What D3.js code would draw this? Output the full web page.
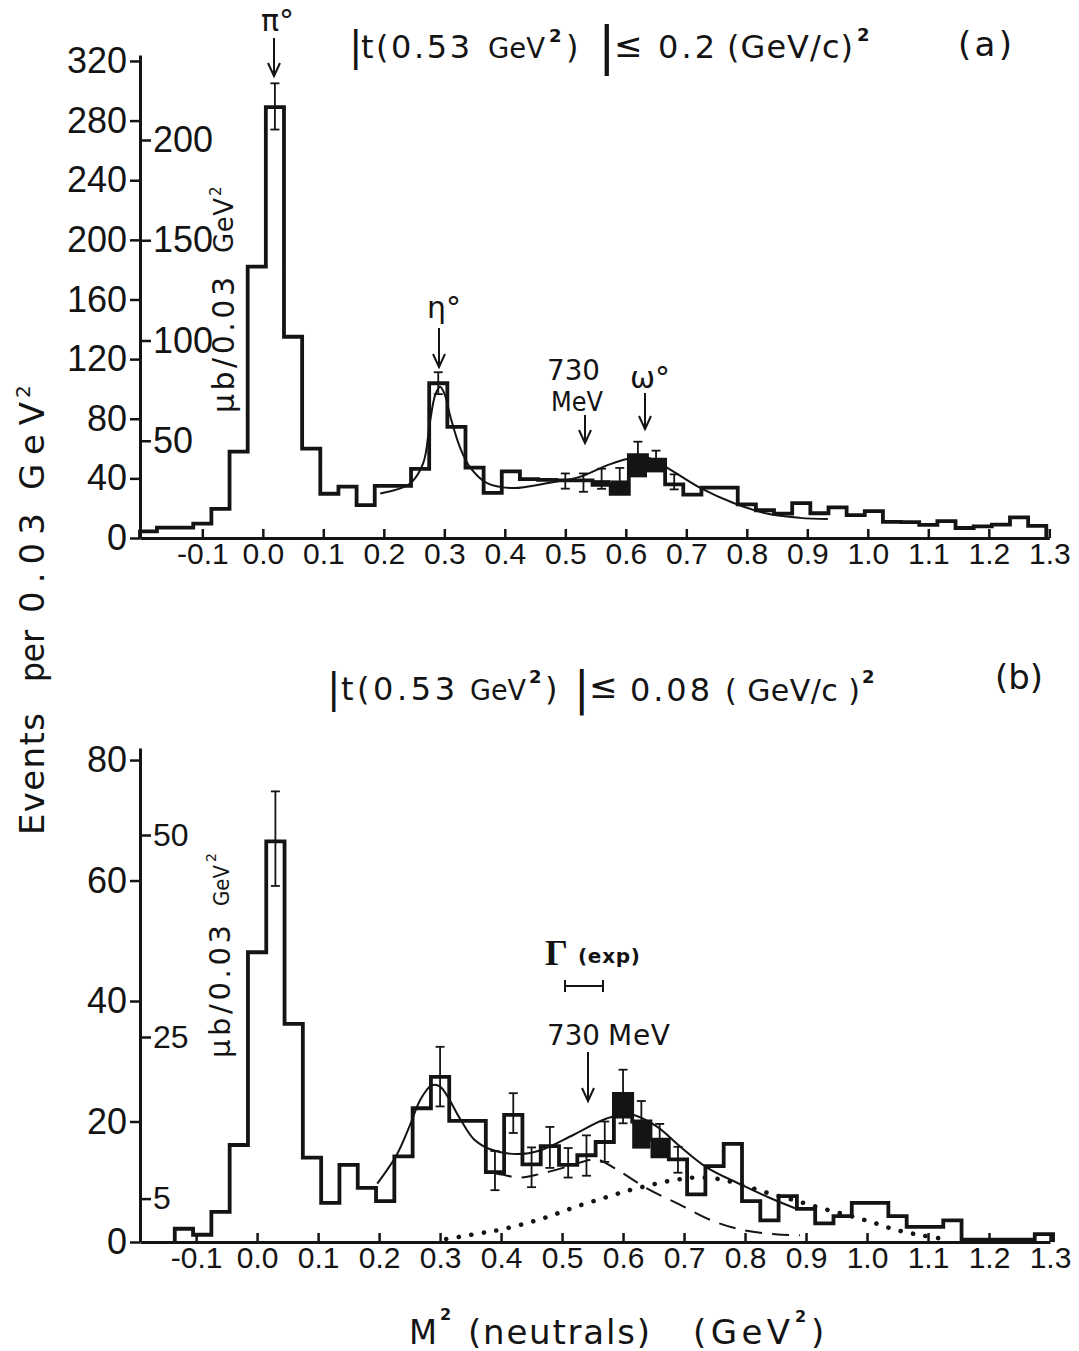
<!DOCTYPE html>
<html><head><meta charset="utf-8">
<script src="https://cdn.jsdelivr.net/npm/d3@7"></script>
<style>
html,body{margin:0;padding:0;background:#fff;}
svg{display:block;}
</style></head><body>
<svg id="c" width="1079" height="1351"></svg>
<script>
// ---------------- DATA ----------------
const binWidth = 0.03;
const xTickValues = [-0.1,0.0,0.1,0.2,0.3,0.4,0.5,0.6,0.7,0.8,0.9,1.0,1.1,1.2,1.3];
const xTickLabels = ["-0.1","0.0","0.1","0.2","0.3","0.4","0.5","0.6","0.7","0.8","0.9","1.0","1.1","1.2","1.3"];

// panel (a)  |t| <= 0.2
const aYTicks = [0,40,80,120,160,200,240,280,320];
const aMuTicks = [50,100,150,200];
const aBinCenters = [-0.19,-0.16,-0.13,-0.10,-0.07,-0.04,-0.01,0.02,0.05,0.08,0.11,0.14,0.17,0.20,0.23,0.26,0.29,0.32,0.35,0.38,0.41,0.44,0.47,0.50,0.53,0.56,0.59,0.62,0.65,0.68,0.71,0.74,0.77,0.80,0.83,0.86,0.89,0.92,0.95,0.98,1.01,1.04,1.07,1.10,1.13,1.16,1.19,1.22,1.25,1.28];
const aEvents = [4.5,7,7,9.7,19.6,58,182,289,135,60,29.7,34.5,22,35,35,46.4,103.8,74.6,47.2,30.3,44.7,39.5,39,38.6,38.6,35.6,29.6,55.6,52.5,36,29.1,33.8,33.8,22.6,18.6,16.3,23.4,16.6,20.5,15.4,18,10.8,10.7,8.8,11.3,6.7,7.8,9,13.8,8.1];
// shaded (omega) bins: [center, low, high]
const aShaded = [[0.56,35.6,38.8],[0.59,29.6,38.6],[0.62,40.7,55.6],[0.65,44,52.5]];
// error bars: [center, low, high]
const aErrors = [[0.02,274,305],[0.29,96.5,111.2],[0.50,33.1,43.3],[0.53,31,43.3],[0.56,33,46.5],[0.59,30.5,47],[0.62,47,64.6],[0.65,47,58.6],[0.68,32.6,42.7]];
// fitted curve points [M2, events]
const aFit = [[0.194,29.9],[0.243,36.4],[0.265,50],[0.276,77],[0.285,96],[0.293,101.5],[0.301,96],[0.31,81.4],[0.326,60.7],[0.343,47.2],[0.37,37],[0.414,33.5],[0.469,36.7],[0.524,41],[0.569,48.7],[0.602,53],[0.635,54],[0.668,47.2],[0.723,33.6],[0.778,23.5],[0.833,16.4],[0.888,13.5],[0.934,12.7]];

// panel (b)  |t| <= 0.08
const bYTicks = [0,20,40,60,80];
const bMuTicks = [5,25,50];
const bBinCenters = [-0.12,-0.09,-0.06,-0.03,0.00,0.03,0.06,0.09,0.12,0.15,0.18,0.21,0.24,0.27,0.30,0.33,0.36,0.39,0.42,0.45,0.48,0.51,0.54,0.57,0.60,0.63,0.66,0.69,0.72,0.75,0.78,0.81,0.84,0.87,0.90,0.93,0.96,0.99,1.02,1.05,1.08,1.11,1.14,1.17,1.20,1.23,1.26,1.29];
const bEvents = [2.2,1.2,5.0,16.1,48.1,66.5,36.2,14.0,6.5,12.8,9.0,6.8,14.2,22.2,27.4,20.1,20.1,11.6,21.1,12.9,15.9,12.8,14.4,16.6,24.6,20.0,17.0,13.7,7.9,12.6,16.3,6.8,3.6,7.6,5.5,3.1,4.3,6.5,6.5,4.3,2.5,2.5,3.6,0.4,0.4,0.4,0.4,1.3];
const bShaded = [[0.60,20.5,24.6],[0.63,15.5,20.0],[0.66,13.9,17.0]];
const bErrors = [[0.03,59.1,74.8],[0.30,22.5,32.4],[0.39,8.6,15.1],[0.42,18.1,24.7],[0.45,9.1,15.7],[0.48,12.3,19.1],[0.51,10.7,15.6],[0.54,11,17.7],[0.57,13.3,20],[0.60,19.7,28.6],[0.63,16.7,23.4],[0.66,15,19.6],[0.69,11.5,15.8]];
const bFit = [[0.197,9.7],[0.229,14.5],[0.251,19.5],[0.267,23.5],[0.286,26],[0.30,25.8],[0.333,20.4],[0.355,17.1],[0.382,15.4],[0.426,14.6],[0.464,15.2],[0.519,17.8],[0.573,20.5],[0.612,21.2],[0.655,19.2],[0.693,15.9],[0.737,12.4],[0.792,9.6],[0.841,7.3],[0.882,5.6]];
const bDashed = [[0.39,11.4],[0.401,11.2],[0.431,10.7],[0.464,11.3],[0.508,12.5],[0.54,13.5],[0.558,13.7],[0.595,11.7],[0.639,8.9],[0.693,6.2],[0.747,3.5],[0.80,1.9],[0.85,1.3],[0.89,1.1]];
const bDotted = [[0.31,0.5],[0.363,1.4],[0.401,2.1],[0.441,3.1],[0.48,4.3],[0.521,5.8],[0.565,7.2],[0.607,8.5],[0.647,9.5],[0.685,10.3],[0.72,10.7],[0.76,10.4],[0.8,9.3],[0.842,8],[0.882,6.9],[0.922,5.7],[0.966,4.5],[1.008,3.3],[1.048,2],[1.09,1.1],[1.132,0.4]];

// ---------------- DRAWING ----------------
const FONT = '"Liberation Sans", Arial, Helvetica, sans-serif';
const FONT2 = '"DejaVu Sans", Verdana, sans-serif';
const INK = "#141414";
const svg = d3.select("#c");
svg.append("rect").attr("width",1079).attr("height",1351).attr("fill","#fff");

const xA = d3.scaleLinear().domain([-0.203, 1.3]).range([140, 1049.3]);
const yA = d3.scaleLinear().domain([0, 324]).range([538, 55]);
const muA = d3.scaleLinear().domain([0, 200]).range([541, 140]);
const xB = d3.scaleLinear().domain([-0.192, 1.3]).range([140, 1050]);
const yB = d3.scaleLinear().domain([0, 82]).range([1242, 748]);
const muB = d3.scaleLinear().domain([0, 50]).range([1239, 835]);

function styleAxis(g, size){
  g.attr("font-family", FONT).attr("font-size", size);
  g.select(".domain").attr("stroke", INK).attr("stroke-width", 3);
  g.selectAll(".tick line").attr("stroke", INK).attr("stroke-width", 2.5);
  g.selectAll(".tick text").attr("fill", INK);
}

function panel(x, y, mu, yTicks, muTicks, muSize, centers, vals, shaded, errors){
  const gy = svg.append("g").attr("transform", `translate(${x.range()[0]},0)`)
    .call(d3.axisLeft(y).tickValues(yTicks).tickSizeInner(10).tickSizeOuter(0).tickPadding(3).tickFormat(d=>String(d)));
  styleAxis(gy, 36);
  const gm = svg.append("g").attr("transform", `translate(${x.range()[0]},0)`)
    .call(d3.axisRight(mu).tickValues(muTicks).tickSizeInner(11).tickSizeOuter(0).tickPadding(2).tickFormat(d=>String(d)));
  gm.select(".domain").remove();
  styleAxis(gm, muSize);
  const gx = svg.append("g").attr("transform", `translate(0,${y(0)})`)
    .call(d3.axisBottom(x).tickValues(xTickValues).tickSizeInner(-9).tickSizeOuter(0).tickPadding(5)
      .tickFormat((d,i)=>xTickLabels[i]));
  styleAxis(gx, 30);

  svg.append("g").selectAll("rect").data(shaded).join("rect")
    .attr("x", d=>x(d[0]-binWidth/2)).attr("width", d=>x(d[0]+binWidth/2)-x(d[0]-binWidth/2))
    .attr("y", d=>y(d[2])).attr("height", d=>y(d[1])-y(d[2])).attr("fill", INK);

  const p = d3.path();
  const xmin = x.range()[0];
  p.moveTo(Math.max(x(centers[0]-binWidth/2), xmin), y(0));
  centers.forEach((c,i)=>{
    p.lineTo(Math.max(x(c-binWidth/2), xmin), y(vals[i]));
    p.lineTo(x(c+binWidth/2), y(vals[i]));
  });
  p.lineTo(x(centers[centers.length-1]+binWidth/2), y(0));
  svg.append("path").attr("d", p.toString()).attr("fill","none").attr("stroke",INK)
    .attr("stroke-width",3.8).attr("stroke-linejoin","miter");

  const ge = svg.append("g").attr("stroke", INK).attr("stroke-width", 1.8);
  errors.forEach(e=>{
    const cx = x(e[0]);
    ge.append("line").attr("x1",cx).attr("x2",cx).attr("y1",y(e[1])).attr("y2",y(e[2]));
    ge.append("line").attr("x1",cx-4.5).attr("x2",cx+4.5).attr("y1",y(e[1])).attr("y2",y(e[1]));
    ge.append("line").attr("x1",cx-4.5).attr("x2",cx+4.5).attr("y1",y(e[2])).attr("y2",y(e[2]));
  });
}

panel(xA, yA, muA, aYTicks, aMuTicks, 36, aBinCenters, aEvents, aShaded, aErrors);
panel(xB, yB, muB, bYTicks, bMuTicks, 32, bBinCenters, bEvents, bShaded, bErrors);

function curve(data, x, y, width, dash, cap){
  const line = d3.line().x(d=>x(d[0])).y(d=>y(d[1])).curve(d3.curveCatmullRom.alpha(0.5));
  const el = svg.append("path").attr("d", line(data)).attr("fill","none").attr("stroke",INK)
    .attr("stroke-width",width).attr("stroke-linecap", cap||"butt");
  if (dash) el.attr("stroke-dasharray", dash);
  return el;
}
curve(aFit, xA, yA, 2);
curve(bFit, xB, yB, 2);
curve(bDashed, xB, yB, 2, "17 10");
curve(bDotted, xB, yB, 4.6, "0.1 12.6", "round");

// ---------------- TEXT ----------------
function fit(t, len){
  if (!len) return;
  const nat = t.node().getComputedTextLength();
  t.attr("textLength", len).attr("lengthAdjust", nat > len ? "spacingAndGlyphs" : "spacing");
}
function txt(x, y, s, size, o){
  o = o || {};
  const t = svg.append("text").attr("x", x).attr("y", y).text(s)
    .attr("font-family", o.family || FONT2).attr("font-size", size).attr("fill", INK);
  if (o.weight) t.attr("font-weight", o.weight);
  if (o.anchor) t.attr("text-anchor", o.anchor);
  fit(t, o.len);
  return t;
}
function rtxt(x, y, s, size, len){
  const t = svg.append("text").attr("transform", `translate(${x},${y}) rotate(-90)`).text(s)
    .attr("font-family", FONT2).attr("font-size", size).attr("fill", INK);
  fit(t, len);
  return t;
}
function arrow(x, y1, y2){
  svg.append("path").attr("d", `M${x},${y1}V${y2}M${x-6},${y2-13}L${x},${y2}L${x+6},${y2-13}`)
    .attr("fill","none").attr("stroke",INK).attr("stroke-width",2);
}

// panel (a) title
txt(349, 60, "|", 40);
txt(361, 58, "t(0.53", 32, {len:109});
txt(488, 58, "GeV", 28, {len:57});
txt(549, 42, "2", 18, {weight:"bold"});
txt(566, 58, ")", 32);
txt(598, 63, "|", 52);
txt(614, 57, "≤", 34);
txt(658, 58, "0.2", 32, {len:57});
txt(727, 58, "(GeV/c)", 32, {len:126});
txt(857, 41, "2", 18, {weight:"bold"});
txt(958, 56, "(a)", 34, {len:54});

// panel (b) title
txt(327, 702, "|", 40);
txt(341, 700, "t(0.53", 32, {len:114});
txt(470, 700, "GeV", 28, {len:56});
txt(529, 683, "2", 18, {weight:"bold"});
txt(545, 700, ")", 32);
txt(574, 704, "|", 46);
txt(589, 698, "≤", 34);
txt(630, 701, "0.08", 32, {len:80});
txt(725, 701, "( GeV/c )", 30, {len:135});
txt(862, 683, "2", 18, {weight:"bold"});
txt(995, 689, "(b)", 34, {len:48});

// annotations (a)
txt(261, 31, "π°", 30);
arrow(274, 38, 76);
txt(427, 318, "η°", 30);
arrow(439, 328, 367);
txt(547, 380, "730", 28, {len:53});
txt(551, 411, "MeV", 26, {len:52});
arrow(585, 415, 443);
txt(630, 388, "ω°", 30);
arrow(645, 393, 429);

// annotations (b)
txt(545, 965, "Γ", 36, {family:'"Liberation Serif", "DejaVu Serif", serif', weight:"bold"});
txt(578, 963, "(exp)", 20, {len:62, weight:"bold"});
svg.append("path").attr("d","M565,986H603M565,980V992M603,980V992").attr("stroke",INK).attr("stroke-width",2).attr("fill","none");
txt(547, 1045, "730", 28, {len:53});
txt(608, 1045, "MeV", 28, {len:62});
arrow(588, 1052, 1101);

// micro-barn axis titles (rotated)
rtxt(234, 413, "μb/0.03", 30, 136);
rtxt(233, 253, "GeV", 26, 55);
rtxt(221, 196, "2", 15);
rtxt(230, 1058, "μb/0.03", 29, 133);
rtxt(229, 906, "GeV", 22, 41);
rtxt(216, 862, "2", 14);

// main y title (rotated)
rtxt(44, 835, "Events", 34, 122);
rtxt(44, 682, "per", 34, 52);
rtxt(44, 613, "0.03", 34, 100);
rtxt(44, 490, "GeV", 34, 88);
rtxt(30, 398, "2", 20);

// x title
txt(409, 1344, "M", 34, {len:28});
txt(440, 1320, "2", 16, {weight:"bold"});
txt(468, 1344, "(neutrals)", 34, {len:182});
txt(693, 1344, "(GeV", 34, {len:97});
txt(795, 1322, "2", 16, {weight:"bold"});
txt(811, 1344, ")", 34);
</script>
</body></html>
